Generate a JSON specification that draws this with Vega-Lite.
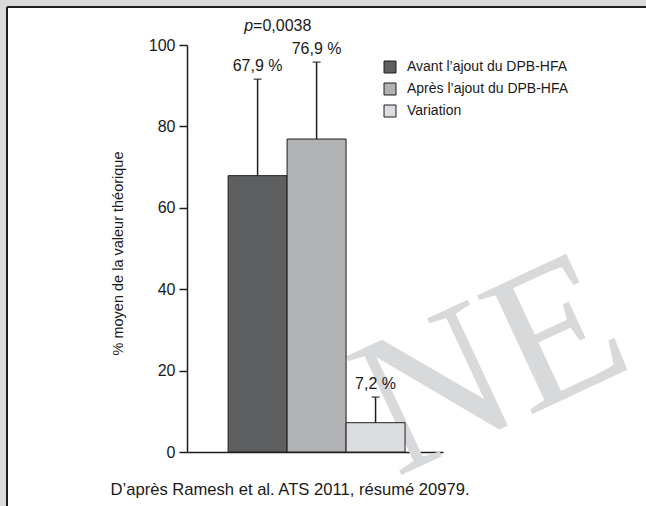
{
  "$schema": "https://vega.github.io/schema/vega-lite/v6.json",
  "width": 639,
  "height": 499,
  "autosize": {"type": "none"},
  "padding": {"left": 7, "top": 7, "right": 0, "bottom": 0},
  "background": "#d9dadc",
  "config": {
    "font": "Liberation Sans",
    "view": {"fill": "white", "stroke": "#1e1e1e", "strokeWidth": 2, "strokeDash": [639, 1138, 499, 0]}
  },
  "data": {
    "values": [
      {"cat": "Avant l’ajout du DPB-HFA", "value": 67.9, "upper": 91.6, "label": "67,9 %"},
      {"cat": "Après l’ajout du DPB-HFA", "value": 76.9, "upper": 95.8, "label": "76,9 %"},
      {"cat": "Variation", "value": 7.2, "upper": 13.5, "label": "7,2 %"}
    ]
  },
  "encoding": {
    "x": {
      "field": "cat",
      "type": "nominal",
      "sort": null,
      "scale": {"domain": ["Avant l’ajout du DPB-HFA", "Après l’ajout du DPB-HFA", "Variation"], "range": [180, 436], "paddingInner": 0, "paddingOuter": 0.67, "align": 0.52},
      "axis": {
        "orient": "bottom",
        "offset": -54,
        "domain": true,
        "domainColor": "#1e1e1e",
        "domainWidth": 1.5,
        "ticks": false,
        "labels": false,
        "title": "D’après Ramesh et al. ATS 2011, résumé 20979.",
        "titleFont": "Liberation Sans",
        "titleFontSize": 16.6,
        "titleFontWeight": "normal",
        "titleColor": "#1a1a1a",
        "titleAnchor": "start",
        "titleAlign": "left",
        "titleBaseline": "alphabetic",
        "titleX": 103,
        "titleY": 42
      }
    }
  },
  "layer": [
    {
      "data": {"values": [{"wm": "NE", "at": "Variation"}]},
      "mark": {"type": "text", "font": "Liberation Serif", "fontSize": 200, "angle": -25, "color": "#d8d9db", "align": "left", "baseline": "alphabetic", "dx": 8, "dy": 32},
      "encoding": {
        "x": {"field": "at", "type": "nominal"},
        "y": {"datum": 0, "type": "quantitative"},
        "text": {"field": "wm"}
      }
    },
    {
      "mark": {"type": "bar", "stroke": "#1e1e1e", "strokeWidth": 1, "opacity": 1},
      "encoding": {
        "y": {
          "field": "value",
          "type": "quantitative",
          "scale": {"domain": [0, 100], "range": [445, 38], "nice": false, "zero": true},
          "axis": {
            "orient": "left",
            "offset": -180,
            "values": [0, 20, 40, 60, 80, 100],
            "domainColor": "#1e1e1e",
            "domainWidth": 1.5,
            "tickColor": "#1e1e1e",
            "tickWidth": 1.5,
            "tickSize": 8,
            "labelFontSize": 16,
            "labelColor": "#1a1a1a",
            "labelPadding": 4,
            "grid": false,
            "title": "% moyen de la valeur théorique",
            "titleFontSize": 14.5,
            "titleFontWeight": "normal",
            "titleColor": "#1a1a1a",
            "titleAngle": 270,
            "titleAlign": "center",
            "titleBaseline": "middle",
            "titleX": -69,
            "titleY": 246
          }
        },
        "color": {
          "field": "cat",
          "type": "nominal",
          "sort": null,
          "scale": {"domain": ["Avant l’ajout du DPB-HFA", "Après l’ajout du DPB-HFA", "Variation"], "range": ["#5e5f61", "#b0b2b4", "#dcdde0"]},
          "legend": {
            "title": null,
            "orient": "none",
            "legendX": 376,
            "legendY": 53,
            "symbolType": "square",
            "symbolSize": 144,
            "symbolStrokeColor": "#1e1e1e",
            "symbolStrokeWidth": 1,
            "symbolOpacity": 1,
            "labelFontSize": 14,
            "labelColor": "#1a1a1a",
            "labelOffset": 10,
            "rowPadding": 6,
            "labelLimit": 300
          }
        }
      }
    },
    {
      "mark": {"type": "rule", "color": "#1e1e1e", "strokeWidth": 1.5},
      "encoding": {
        "y": {"field": "value", "type": "quantitative"},
        "y2": {"field": "upper"}
      }
    },
    {
      "mark": {"type": "tick", "color": "#1e1e1e", "thickness": 1.5, "size": 8, "orient": "horizontal"},
      "encoding": {
        "y": {"field": "upper", "type": "quantitative"}
      }
    },
    {
      "mark": {"type": "text", "fontSize": 16, "color": "#1a1a1a", "baseline": "alphabetic", "dy": -8},
      "encoding": {
        "y": {"field": "upper", "type": "quantitative"},
        "text": {"field": "label"}
      }
    },
    {
      "data": {"values": [{"part": "p", "anchor": "Avant l’ajout du DPB-HFA"}]},
      "mark": {"type": "text", "fontSize": 16, "fontStyle": "italic", "color": "#1a1a1a", "align": "right", "baseline": "middle", "dx": -34, "dy": -19},
      "encoding": {
        "x": {"field": "anchor", "type": "nominal", "bandPosition": 1},
        "y": {"datum": 100, "type": "quantitative"},
        "text": {"field": "part"}
      }
    },
    {
      "data": {"values": [{"part": "=0,0038", "anchor": "Avant l’ajout du DPB-HFA"}]},
      "mark": {"type": "text", "fontSize": 16, "color": "#1a1a1a", "align": "left", "baseline": "middle", "dx": -34, "dy": -19},
      "encoding": {
        "x": {"field": "anchor", "type": "nominal", "bandPosition": 1},
        "y": {"datum": 100, "type": "quantitative"},
        "text": {"field": "part"}
      }
    }
  ]
}
